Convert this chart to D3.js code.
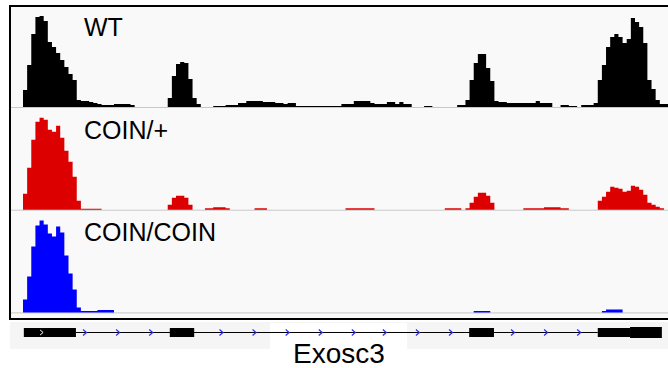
<!DOCTYPE html>
<html>
<head>
<meta charset="utf-8">
<script src="https://cdn.jsdelivr.net/npm/d3@7"></script>
<style>
  body { margin: 0; background: #fff; }
  text { font-family: "Liberation Sans", Arial, sans-serif; }
</style>
</head>
<body>
<div class="canvas"></div>
<script>
// coverage per bin (bins 0..158)
const wt = [
  0, 0, 0,
  17, 42, 73, 90, 91, 86, 65, 60, 54, 47, 40, 33, 27,      // 3-15
  7, 6, 6, 5, 4, 3, 2, 2, 2, 3, 3, 3, 3, 2,                // 16-29
  0, 0, 0, 0, 0, 0, 0, 0,                                  // 30-37
  9, 31, 43, 45, 44, 28, 9, 3,                             // 38-45
  0, 0, 0,                                                 // 46-48
  1, 1, 1, 2, 2, 2, 4, 4, 6, 6, 6, 6, 5, 5, 5, 4, 4, 3, 4, 4, // 49-68
  1, 1, 1, 1, 1, 1, 1, 1, 1, 1, 1,                         // 69-79
  3, 3, 3, 6, 6, 6, 6, 4, 3, 3, 3, 5, 5, 3, 5, 3, 3,       // 80-96
  0, 0, 0, 1, 1,                                           // 97-101
  0, 0, 0, 0, 0, 0,                                        // 102-107
  2, 2, 7, 27, 44, 53, 53, 39, 26, 6, 5, 5,                // 108-119
  4, 4, 4, 4, 4, 4, 4, 6, 4, 4, 4,                         // 120-130
  0, 0, 2, 2, 1, 1, 0, 2, 2, 2, 4,                         // 131-141
  27, 42, 60, 70, 73, 70, 64, 68, 89, 85, 80, 64, 27, 18, 7, 3, // 142-157
  3
];

const coinHet = [
  0, 0, 0,
  16, 42, 70, 88, 92, 90, 80, 78, 84, 72, 59, 48, 33, 9,   // 3-16
  1, 1, 1, 1, 1,                                           // 17-21
  0, 0, 0, 0, 0, 0, 0, 0, 0, 0, 0, 0, 0, 0, 0, 0,          // 22-37
  5, 12, 14, 14, 12, 5,                                    // 38-43
  0, 0, 0, 1.5, 1.5, 2.5, 2.5, 2.5, 1.5,                   // 44-52
  0, 0, 0, 0, 0, 0, 1.5, 1.5, 1.5,                         // 53-61
  0, 0, 0, 0, 0, 0, 0, 0, 0, 0, 0, 0, 0, 0, 0, 0, 0, 0, 0, // 62-80
  1.5, 1.5, 1.5, 1.5, 1.5, 1.5, 1.5,                       // 81-87
  0, 0, 0, 0, 0, 0, 0, 0, 0, 0, 0, 0, 0, 0, 0, 0, 0,       // 88-104
  1.5, 1.5, 1.5, 1.5, 0, 1.5,                              // 105-110
  7, 13, 17, 17, 14, 7,                                    // 111-116
  0, 0, 0, 0, 0, 0, 0,                                     // 117-123
  1.5, 1.5, 1.5, 1.5, 1.5, 2.5, 2.5, 2.5, 2.5, 1.5, 1.5,   // 124-134
  0, 0, 0, 0, 0, 0, 0,                                     // 135-141
  9, 13, 18, 23, 22, 21, 18, 19, 24, 23, 20, 15, 7, 5, 3, 1.5, // 142-157
  0
];

const coinHom = [
  0, 0, 0,
  13, 36, 66, 87, 92, 88, 79, 76, 86, 80, 57, 39, 23, 5,   // 3-16
  1.5, 1.5, 1.5, 1.5, 2.5, 2.5, 2.5, 2.5,                  // 17-24
  0, 0, 0, 0, 0, 0, 0, 0, 0, 0, 0, 0, 0, 0, 0, 0, 0, 0, 0, 0, // 25-44
  0, 0, 0, 0, 0, 0, 0, 0, 0, 0, 0, 0, 0, 0, 0, 0, 0, 0, 0, 0, // 45-64
  0, 0, 0, 0, 0, 0, 0, 0, 0, 0, 0, 0, 0, 0, 0, 0, 0, 0, 0, 0, // 65-84
  0, 0, 0, 0, 0, 0, 0, 0, 0, 0, 0, 0, 0, 0, 0, 0, 0, 0, 0, 0, // 85-104
  0, 0, 0, 0, 0, 0, 0,                                     // 105-111
  1.5, 1.5, 1.5, 1.5,                                      // 112-115
  0, 0, 0, 0, 0, 0, 0, 0, 0, 0, 0, 0, 0, 0, 0, 0, 0, 0, 0, 0, // 116-135
  0, 0, 0, 0, 0, 0, 0,                                     // 136-142
  1.3, 3, 3, 3, 3,                                         // 143-147
  0, 0, 0, 0, 0, 0, 0, 0, 0, 0, 0                          // 148-158
];

const trackNames = ["WT", "COIN/+", "COIN/COIN"];
const trackColors = ["#000000", "#dd0000", "#0000ff"];

// gene model, in the same bin coordinates
const exonStarts = [3.2, 38.5, 110.9, 142];
const exonEnds = [15.8, 44.4, 116.9, 149.8];
const cdsStarts = [149.8];
const cdsEnds = [157.5];
const strandMarks = [18, 26, 34, 51, 59, 67, 75, 83, 90.5, 98.5, 106.5, 121.5, 129.5, 137.5];
const geneName = "Exosc3";

const canvas = d3.select(".canvas");

const svg = canvas.append("svg")
    .attr("width", 668)
    .attr("height", 368);

const x = d3.scaleLinear()
    .domain([0, 160])
    .range([10.6, 10.6 + 160 * 4.135]);

const y = d3.scaleLinear()
    .domain([0, 100])
    .range([100, 0]);

// frame
svg.append("rect")
    .attr("x", 10)
    .attr("y", 6)
    .attr("width", 700)
    .attr("height", 313)
    .attr("fill", "#f9f9f9")
    .attr("stroke", "#000")
    .attr("stroke-width", 2);

const area = d3.area()
    .curve(d3.curveStepAfter)
    .x(d => x(d[0]))
    .y0(y(0))
    .y1(d => y(d[1]));

[wt, coinHet, coinHom].forEach((vals, i) => {
    const base = 107 + i * 102.7;
    const g = svg.append("g")
        .attr("transform", "translate(0," + (base - 100) + ")");

    g.append("line")
        .attr("x1", 11)
        .attr("x2", 668)
        .attr("y1", 100.5)
        .attr("y2", 100.5)
        .attr("stroke", "#c8c8c8")
        .attr("stroke-width", 1);

    let pts = vals.map((v, j) => [j, v]);
    pts.push([vals.length, vals[vals.length - 1]]);

    g.append("path")
        .datum(pts)
        .attr("d", area)
        .attr("fill", trackColors[i]);

    g.append("text")
        .attr("x", 84)
        .attr("y", 29)
        .attr("font-size", 25)
        .attr("fill", "#000")
        .text(trackNames[i]);
});

// gene track
svg.append("rect")
    .attr("x", 10)
    .attr("y", 322)
    .attr("width", 658)
    .attr("height", 27)
    .attr("fill", "#f5f5f5");

svg.append("rect")
    .attr("x", 270)
    .attr("y", 323)
    .attr("width", 137)
    .attr("height", 26)
    .attr("fill", "#fff");

svg.append("line")
    .attr("x1", x(exonEnds[0]))
    .attr("x2", x(exonStarts[3]))
    .attr("y1", 332.5)
    .attr("y2", 332.5)
    .attr("stroke", "#000")
    .attr("stroke-width", 1);

svg.selectAll(".mark")
    .data(strandMarks)
    .enter().append("path")
    .attr("class", "mark")
    .attr("d", d => "M" + (x(d) - 2) + ",329.5 L" + (x(d) + 1.5) + ",332.5 L" + (x(d) - 2) + ",335.5")
    .attr("fill", "none")
    .attr("stroke", "#2a2aff")
    .attr("stroke-width", 1.2);

svg.selectAll(".exon")
    .data(exonStarts)
    .enter().append("rect")
    .attr("class", "exon")
    .attr("x", d => x(d))
    .attr("y", 328)
    .attr("width", (d, i) => x(exonEnds[i]) - x(d))
    .attr("height", 9)
    .attr("fill", "#000");

svg.selectAll(".cds")
    .data(cdsStarts)
    .enter().append("rect")
    .attr("class", "cds")
    .attr("x", d => x(d))
    .attr("y", 327)
    .attr("width", (d, i) => x(cdsEnds[i]) - x(d))
    .attr("height", 11)
    .attr("fill", "#000");

// white chevron inside first exon
svg.append("path")
    .attr("d", "M" + (x(7.5) - 1.5) + ",330 L" + (x(7.5) + 1.5) + ",332.5 L" + (x(7.5) - 1.5) + ",335")
    .attr("fill", "none")
    .attr("stroke", "#fff")
    .attr("stroke-width", 1);

svg.append("text")
    .attr("x", 339)
    .attr("y", 363)
    .attr("text-anchor", "middle")
    .attr("font-size", 28)
    .attr("fill", "#000")
    .text(geneName);
</script>
</body>
</html>
